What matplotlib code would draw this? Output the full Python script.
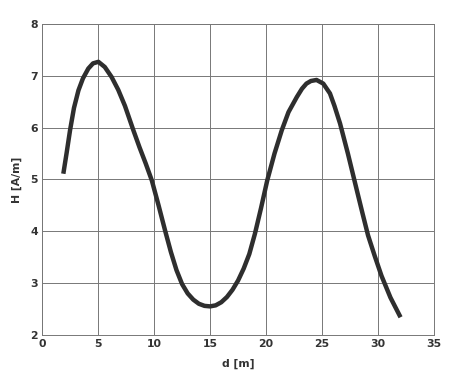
import matplotlib
matplotlib.use("Agg")
import matplotlib.pyplot as plt

d = [1.9, 2.2, 2.5, 2.85, 3.25, 3.65, 4.13, 4.55, 5.03, 5.6, 6.2, 6.8, 7.4, 8.15, 8.7, 9.25, 9.8,
     10.4, 11.0, 11.5, 12.0, 12.5, 13.0, 13.5, 14.0, 14.5, 15.0, 15.5, 16.0, 16.5, 17.0, 17.5, 18.0,
     18.5, 19.0, 19.55, 20.1, 20.75, 21.4, 22.0, 22.74, 23.2, 23.6, 24.0, 24.5, 25.1, 25.7, 26.1, 26.6,
     27.3, 28.1, 28.6, 29.1, 29.7, 30.3, 31.1, 32.0]
H = [5.11, 5.52, 5.95, 6.38, 6.72, 6.95, 7.14, 7.24, 7.27, 7.17, 6.98, 6.73, 6.42, 5.95, 5.62, 5.31, 4.98,
     4.5, 4.0, 3.6, 3.25, 2.98, 2.8, 2.68, 2.6, 2.56, 2.55, 2.57, 2.63, 2.73, 2.87, 3.05, 3.28,
     3.56, 3.95, 4.45, 4.98, 5.5, 5.95, 6.3, 6.59, 6.75, 6.85, 6.9, 6.92, 6.85, 6.66, 6.42, 6.08,
     5.5, 4.79, 4.35, 3.92, 3.52, 3.14, 2.72, 2.34]

xticks = [0, 5, 10, 15, 20, 25, 30, 35]
yticks = [2, 3, 4, 5, 6, 7, 8]

fig = plt.figure(figsize=(4.57, 3.75), dpi=100)
ax = fig.add_axes([0.092, 0.107, 0.858, 0.829])
ax.plot(d, H, color="#2e2e2e", lw=3.2, solid_capstyle="butt", solid_joinstyle="round")
ax.set_xlim(0, 35)
ax.set_ylim(2, 8)
ax.set_xticks(xticks)
ax.set_yticks(yticks)
ax.grid(True, color="#777777", lw=0.7)
ax.tick_params(length=0, labelsize=7.8, labelcolor="#333333", pad=3)
for lab in ax.get_xticklabels() + ax.get_yticklabels():
    lab.set_fontweight("bold")
for s in ax.spines.values():
    s.set_color("#777777")
    s.set_linewidth(0.7)
ax.set_xlabel("d [m]", fontsize=7.8, fontweight="bold", color="#333333", labelpad=7)
ax.set_ylabel("H [A/m]", fontsize=7.8, fontweight="bold", color="#333333", labelpad=6)
fig.savefig("out.png", dpi=100)
